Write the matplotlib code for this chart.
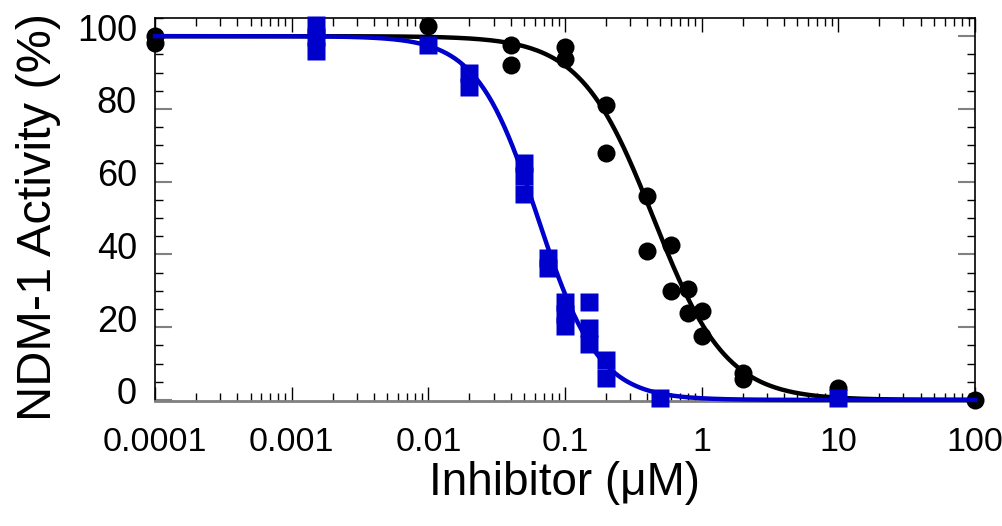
import numpy as np
import matplotlib.pyplot as plt
import matplotlib.transforms as mtransforms
from matplotlib.ticker import FixedLocator, LogLocator, NullFormatter, MultipleLocator

# black circles (compound 1)
conc_black = [0.0001, 0.0001, 0.01, 0.04, 0.04, 0.1, 0.1, 0.2, 0.2, 0.4, 0.4,
              0.6, 0.6, 0.8, 0.8, 1.0, 1.0, 2.0, 2.0, 10.0, 100.0]
act_black = [100.0, 98.0, 102.7, 97.5, 92.0, 97.0, 93.7, 81.0, 67.8, 56.0, 41.0,
             42.7, 30.0, 30.6, 24.0, 24.5, 17.6, 7.4, 5.8, 3.3, 0.0]
# blue squares (compound 2)
conc_blue = [0.0015, 0.0015, 0.0015, 0.01, 0.02, 0.02, 0.05, 0.05, 0.05, 0.075, 0.075,
             0.1, 0.1, 0.1, 0.15, 0.15, 0.15, 0.2, 0.2, 0.5, 10.0]
act_blue = [103.0, 99.7, 96.0, 97.5, 90.0, 86.0, 65.0, 61.5, 56.5, 39.0, 36.4,
            27.0, 23.7, 20.4, 27.0, 19.8, 15.4, 11.0, 6.0, 0.5, 0.5]

# Hill fit parameters (IC50 in uM, slope)
ic50_black, hill_black = 0.444, 1.63
ic50_blue, hill_blue = 0.0634, 1.95

xticks = [0.0001, 0.001, 0.01, 0.1, 1, 10, 100]
xticklabels = ['0.0001', '0.001', '0.01', '0.1', '1', '10', '100']

plt.rcParams['font.family'] = ['Liberation Sans', 'DejaVu Sans']

fig = plt.figure(figsize=(10.02, 5.26), dpi=100)
ax = fig.add_axes([0.1547, 0.2376, 0.8183, 0.7282])

xs = np.logspace(-4, 2, 400)
ax.plot(xs, 100 / (1 + (xs / ic50_black) ** hill_black), color='black', lw=3.2, zorder=2)
ax.plot(conc_black, act_black, 'o', color='black', ms=13, mec='none', zorder=3)
ax.plot(xs, 100 / (1 + (xs / ic50_blue) ** hill_blue), color='#0000cc', lw=3.2, zorder=4)
ax.plot(conc_blue, act_blue, 's', color='#0000cc', ms=13, mec='none', zorder=5)

ax.set_xscale('log')
ax.set_xlim(1e-4, 100)
ax.set_ylim(-0.3, 105)

ax.xaxis.set_major_locator(FixedLocator(xticks))
ax.set_xticklabels(xticklabels)
ax.xaxis.set_minor_locator(LogLocator(base=10, subs=np.arange(2, 10), numticks=20))
ax.xaxis.set_minor_formatter(NullFormatter())
ax.yaxis.set_major_locator(MultipleLocator(20))
ax.yaxis.set_minor_locator(MultipleLocator(5))

ax.tick_params(axis='both', which='both', direction='in', top=True, right=True)
ax.tick_params(axis='x', which='major', length=10, width=1, labelsize=24.5, pad=19)
ax.tick_params(axis='x', which='minor', length=6, width=1)
ax.tick_params(axis='y', which='major', length=12, width=1.5, color='gray', labelsize=26, pad=13)
ax.tick_params(axis='y', which='minor', length=6, width=1)

# y tick labels sit slightly above their ticks in the original
shift = mtransforms.ScaledTranslation(0, 0.09, fig.dpi_scale_trans)
for lab in ax.get_yticklabels():
    lab.set_transform(lab.get_transform() + shift)

for s in ['top', 'right', 'left']:
    ax.spines[s].set_linewidth(1.2)
ax.spines['bottom'].set_color('gray')
ax.spines['bottom'].set_linewidth(2)

ax.set_xlabel('Inhibitor (\u03bcM)', fontsize=33, labelpad=2)
ax.set_ylabel('NDM-1 Activity (%)', fontsize=35, labelpad=10)
ax.yaxis.set_label_coords(-0.115, 0.48)

for line in ax.lines:
    line.set_clip_on(False)

fig.savefig('out.png', dpi=100)
